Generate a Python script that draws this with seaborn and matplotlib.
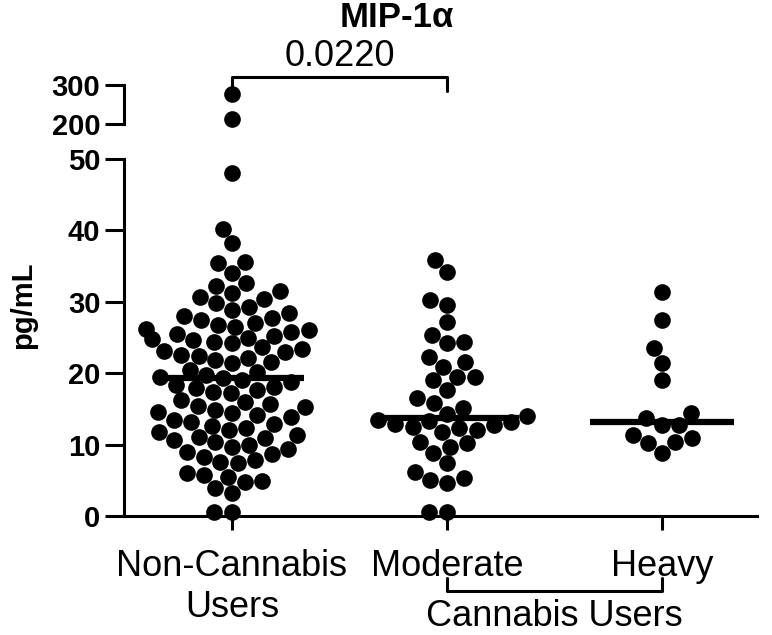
import numpy as np
import pandas as pd
import matplotlib
matplotlib.use("Agg")
import matplotlib.pyplot as plt
import matplotlib.transforms as mtransforms
import seaborn as sns

# =========================================================
# DATA (pg/mL)
# =========================================================

groups = ["Non-Cannabis\nUsers", "Moderate", "Heavy"]

non_users = [
    276, 213, 48.0, 40.2, 38.2, 35.6, 35.4, 34.0, 32.6, 32.2, 31.5, 31.2, 30.7, 30.4,
    29.8, 29.3, 28.8, 28.4, 28.0, 27.7, 27.4, 27.1, 26.8, 26.5,
    26.2, 26.0, 25.8, 25.5, 25.2, 25.0, 24.8, 24.6, 24.4, 24.2,
    23.6, 23.4, 23.1, 22.9, 22.6, 22.4, 22.1, 21.9, 21.6, 21.4,
    20.4, 20.1, 19.8, 19.5, 19.3, 19.0, 18.7, 18.4, 18.1, 17.9, 17.6, 17.4, 17.2,
    16.2, 15.9, 15.7, 15.4, 15.2, 14.9, 14.6, 14.4, 14.1, 13.8, 13.5, 13.2, 12.9, 12.6,
    12.3, 12.0, 11.7, 11.4, 11.1, 10.9, 10.6, 10.3, 10.0, 9.7, 9.4, 9.0, 8.7, 8.3,
    7.8, 7.6, 7.4, 6.0, 5.7, 5.5, 4.9, 4.8, 3.9, 3.2, 0.6, 0.6,
]

moderate = [
    35.9, 34.2, 30.3, 29.6, 27.2, 25.3, 24.4, 24.2, 22.3, 21.6, 20.9, 19.5, 19.5,
    19.0, 17.6, 16.5, 15.8, 15.1, 14.3, 14.0, 13.5, 13.3, 13.1, 12.9, 12.7, 12.5,
    12.3, 12.1, 11.8, 10.4, 10.2, 9.7, 8.8, 7.4, 6.2, 5.3, 5.0, 4.6, 0.6, 0.6,
]

heavy = [31.4, 27.5, 23.5, 21.4, 19.0, 14.4, 13.7, 12.7, 12.7, 11.3, 10.9, 10.4, 10.2, 8.8]

p_value = "0.0220"

df = pd.DataFrame({
    "group": [groups[0]] * len(non_users) + [groups[1]] * len(moderate) + [groups[2]] * len(heavy),
    "value": non_users + moderate + heavy,
})

# =========================================================
# FIGURE
# =========================================================

sns.set_style("ticks")
plt.rcParams["font.family"] = ["Liberation Sans", "DejaVu Sans"]
plt.rcParams["text.color"] = "black"

fig = plt.figure(figsize=(7.72, 6.35), dpi=100)
ax_top = fig.add_axes([0.1606, 0.8047, 0.8194, 0.0614])
ax = fig.add_axes([0.1606, 0.1874, 0.8194, 0.5622])

sns.swarmplot(data=df[df["value"] <= 50], x="group", y="value", order=groups,
              color="black", size=12, linewidth=0, ax=ax, warn_thresh=1)
sns.swarmplot(data=df[df["value"] >= 200], x="group", y="value", order=groups,
              color="black", size=12, linewidth=0, ax=ax_top, warn_thresh=1)

for c in ax.collections + ax_top.collections:
    c.set_clip_on(False)

# median lines
for i, vals in enumerate([non_users, moderate, heavy]):
    ax.hlines(np.median(vals), i - 0.335, i + 0.335, color="black", lw=4.5, zorder=4)

# lower axis
ax.set_xlim(-0.502, 2.44)
ax.set_ylim(0, 50)
ax.set_yticks(range(0, 51, 10))
ax.set_xlabel("")
ax.set_ylabel("")
for side in ["top", "right"]:
    ax.spines[side].set_visible(False)
for side in ["left", "bottom"]:
    ax.spines[side].set_linewidth(2.2)
    ax.spines[side].set_color("black")
ax.tick_params(axis="y", length=14, width=2.2, labelsize=21, pad=3, colors="black")
ax.tick_params(axis="x", length=10, width=2.2, labelsize=26, pad=14, colors="black")
for t in ax.get_yticklabels():
    t.set_fontweight("bold")
for t in ax.get_xticklabels():
    t.set_linespacing(1.2)

# upper axis
ax_top.set_xlim(-0.502, 2.44)
ax_top.set_ylim(200, 300)
ax_top.set_yticks([200, 300])
ax_top.set_xticks([])
ax_top.set_xlabel("")
ax_top.set_ylabel("")
for side in ["top", "right", "bottom"]:
    ax_top.spines[side].set_visible(False)
ax_top.spines["left"].set_linewidth(2.2)
ax_top.spines["left"].set_color("black")
ax_top.tick_params(axis="y", length=14, width=2.2, labelsize=21, pad=3, colors="black")
for t in ax_top.get_yticklabels():
    t.set_fontweight("bold")

# brackets and annotations
trans = mtransforms.blended_transform_factory(ax.transData, fig.transFigure)
ax.plot([0, 0, 1, 1], [0.856, 0.878, 0.878, 0.856], transform=trans,
        color="black", lw=2.2, clip_on=False)
ax.text(0.5, 0.911, p_value, transform=trans, ha="center", va="center",
        fontsize=26, color="black")

ax.plot([1, 1, 2, 2], [0.090, 0.070, 0.070, 0.090], transform=trans,
        color="black", lw=2.2, clip_on=False)
ax.text(1.5, 0.029, "Cannabis Users", transform=trans, ha="center", va="center",
        fontsize=26, color="black")

fig.text(0.514, 0.972, "MIP-1α", ha="center", va="center", fontsize=25,
         fontweight="bold", color="black")
fig.text(0.03, 0.52, "pg/mL", ha="center", va="center", rotation=90,
         fontsize=21, fontweight="bold", color="black")

fig.savefig("out.png", dpi=100)
